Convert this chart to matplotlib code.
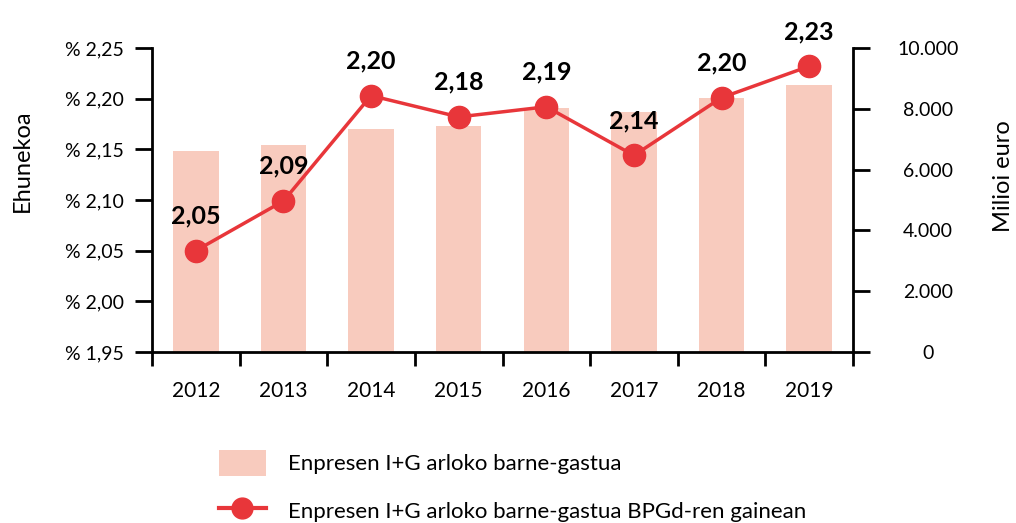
import numpy as np
import matplotlib
matplotlib.use('Agg')
import matplotlib.pyplot as plt
from matplotlib.patches import Patch
from matplotlib.lines import Line2D

years = ['2012', '2013', '2014', '2015', '2016', '2017', '2018', '2019']
spending = [6620, 6810, 7340, 7430, 8030, 7890, 8360, 8790]
share = [2.05, 2.099, 2.203, 2.182, 2.192, 2.144, 2.201, 2.232]
share_labels = ['2,05', '2,09', '2,20', '2,18', '2,19', '2,14', '2,20', '2,23']
left_ticks = [1.95, 2.00, 2.05, 2.10, 2.15, 2.20, 2.25]
right_ticks = [0, 2000, 4000, 6000, 8000, 10000]

bar_color = '#F8CBBE'
line_color = '#E8363A'

plt.rcParams['font.family'] = ['Lato', 'DejaVu Sans']
plt.rcParams['font.size'] = 14

fig = plt.figure(figsize=(10.16, 5.23), dpi=100)
ax = fig.add_axes([152 / 1016, 1 - 352 / 523, 701 / 1016, 304 / 523])
ax2 = ax.twinx()

x = np.arange(len(years))
ax2.bar(x, spending, width=0.52, color=bar_color, zorder=1)
ax2.set_ylim(0, 10000)
ax2.set_yticks(right_ticks)
ax2.set_yticklabels([f'{v:,}'.replace(',', '.') for v in right_ticks], ha='center')
ax2.set_ylabel('Milioi euro', fontsize=17, rotation=90, va='center', ha='center')
ax2.yaxis.set_label_coords(1.214, 0.58)

ax.set_zorder(ax2.get_zorder() + 1)
ax.patch.set_visible(False)
ax.plot(x, share, color=line_color, lw=2.5, marker='o', markersize=16, zorder=3)
for xi, yi, lab in zip(x, share, share_labels):
    ax.annotate(lab, (xi, yi), xytext=(0, 25), textcoords='offset points',
                ha='center', va='center', fontsize=18, fontweight='bold')

ax.set_ylim(1.95, 2.25)
ax.set_yticks(left_ticks)
ax.set_yticklabels(['% ' + f'{v:.2f}'.replace('.', ',') for v in left_ticks])
ax.set_ylabel('Ehunekoa', fontsize=17, va='center', ha='center')
ax.yaxis.set_label_coords(-0.185, 0.63)
ax.set_xlim(-0.5, len(years) - 0.5)
ax.set_xticks(x)
ax.set_xticklabels(years, fontsize=15)
ax.set_xticks(np.arange(-0.5, len(years)), minor=True)
ax.tick_params(axis='x', which='major', length=0, pad=21)
ax.tick_params(axis='x', which='minor', length=10, width=2)
ax.tick_params(axis='y', length=12, width=2, pad=8)
ax2.tick_params(axis='y', length=12, width=2, pad=42)

for a in (ax, ax2):
    a.spines['top'].set_visible(False)
    for s in ('left', 'right', 'bottom'):
        a.spines[s].set_linewidth(2)
ax.spines['right'].set_visible(False)
ax2.spines['left'].set_visible(False)
ax2.spines['bottom'].set_visible(False)

handles = [Patch(facecolor=bar_color, edgecolor='none'),
           Line2D([], [], color=line_color, lw=3, marker='o', markersize=15)]
labels = ['Enpresen I+G arloko barne-gastua',
          'Enpresen I+G arloko barne-gastua BPGd-ren gainean']
fig.legend(handles, labels, loc='upper left', bbox_to_anchor=(199 / 1016, 1 - 430 / 523),
           frameon=False, fontsize=16, handlelength=2.1, handleheight=1.4,
           handletextpad=1.0, labelspacing=1.0)

fig.savefig('out.png', dpi=100)
